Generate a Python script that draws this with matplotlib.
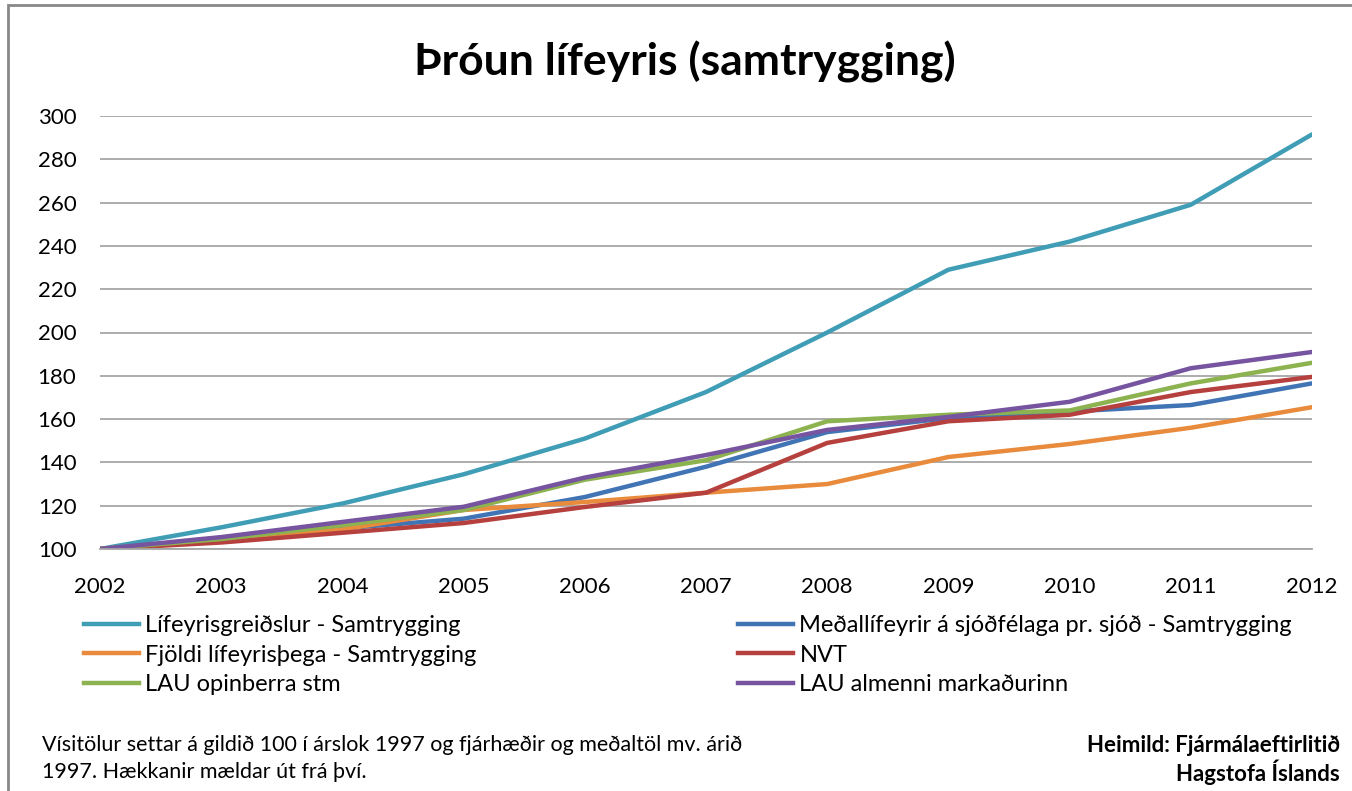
import matplotlib.pyplot as plt
from matplotlib.lines import Line2D
from matplotlib.patches import Rectangle

plt.rcParams['font.family'] = ['Lato', 'DejaVu Sans']

years = [2002, 2003, 2004, 2005, 2006, 2007, 2008, 2009, 2010, 2011, 2012]

# index values, 1997 = 100 (rebased so 2002 = 100 in the chart)
lifeyrisgreidslur = [100, 110, 121, 134.5, 151, 172.5, 200, 229, 242, 259, 291.5]
medallifeyrir = [100, 104, 109.5, 114, 124, 138, 154, 160.5, 163.5, 166.5, 176.5]
fjoldi = [100, 104, 109, 118, 121.7, 126, 130, 142.5, 148.5, 156, 165.5]
nvt = [100, 103, 107.5, 112, 119.4, 126, 149, 159, 162, 172.5, 179.5]
lau_opinberra = [100, 104.6, 111, 118, 132, 141, 159, 162, 164, 176.5, 186]
lau_almenni = [100, 105.5, 112.5, 119.5, 133, 143.4, 155, 161, 168, 183.5, 191]

series = [
    ('Lífeyrisgreiðslur - Samtrygging', lifeyrisgreidslur, '#409DB6'),
    ('Meðallífeyrir á sjóðfélaga pr. sjóð - Samtrygging', medallifeyrir, '#4174B4'),
    ('Fjöldi lífeyrisþega - Samtrygging', fjoldi, '#E98B3C'),
    ('NVT', nvt, '#B5403E'),
    ('LAU opinberra stm', lau_opinberra, '#8DB250'),
    ('LAU almenni markaðurinn', lau_almenni, '#7654A0'),
]

W, H = 1352, 791
fig = plt.figure(figsize=(W / 100, H / 100), dpi=100)

# chart area border (left/top visible, right/bottom run off the picture)
fig.patches.append(Rectangle((8 / W, -0.1), 1.2, 1 - 5 / H + 0.1,
                             transform=fig.transFigure, fill=False,
                             edgecolor='#888888', linewidth=2))

ax = fig.add_axes([100 / W, 1 - 549 / H, 1212 / W, 433 / H])

handles = {}
for name, vals, col in series:
    ln, = ax.plot(years, vals, color=col, linewidth=3.2, solid_capstyle='round',
                  solid_joinstyle='round', label=name)
    handles[name] = ln

ax.set_xlim(2002, 2012)
ax.set_ylim(100, 300)
ax.set_yticks(range(100, 301, 20))
ax.set_xticks(years)
ax.grid(axis='y', color='#A6A6A6', linewidth=1.3)
ax.set_axisbelow(True)
for s in ['top', 'right', 'left']:
    ax.spines[s].set_visible(False)
ax.spines['bottom'].set_color('#A6A6A6')
ax.spines['bottom'].set_linewidth(1.3)
ax.tick_params(axis='both', length=0, labelsize=16, colors='#000000')
ax.tick_params(axis='x', pad=20)
ax.tick_params(axis='y', pad=17)

fig.text(685 / W, 1 - 62 / H, 'Þróun lífeyris (samtrygging)', ha='center', va='center',
         fontsize=32, fontweight='bold')

def legend_col(names, x):
    hs = [Line2D([], [], color=handles[n].get_color(), linewidth=3.2) for n in names]
    leg = fig.legend(hs, names, loc='upper left', bbox_to_anchor=(x / W, 1 - 615 / H),
                     frameon=False, fontsize=17, handlelength=2.35, handletextpad=0.25,
                     labelspacing=0.37, borderaxespad=0, borderpad=0)
    return leg

legend_col([series[0][0], series[2][0], series[4][0]], 84)
legend_col([series[1][0], series[3][0], series[5][0]], 738)

fig.text(42 / W, 1 - 745 / H, 'Vísitölur settar á gildið 100 í árslok 1997 og fjárhæðir og meðaltöl mv. árið',
         ha='left', va='center', fontsize=15.5)
fig.text(42 / W, 1 - 772 / H, '1997. Hækkanir mældar út frá því.',
         ha='left', va='center', fontsize=15.5)
fig.text(1340 / W, 1 - 745 / H, 'Heimild: Fjármálaeftirlitið', ha='right', va='center',
         fontsize=16, fontweight='bold')
fig.text(1340 / W, 1 - 772 / H, 'Hagstofa Íslands', ha='right', va='center',
         fontsize=16, fontweight='bold')

fig.savefig('out.png', dpi=100)
